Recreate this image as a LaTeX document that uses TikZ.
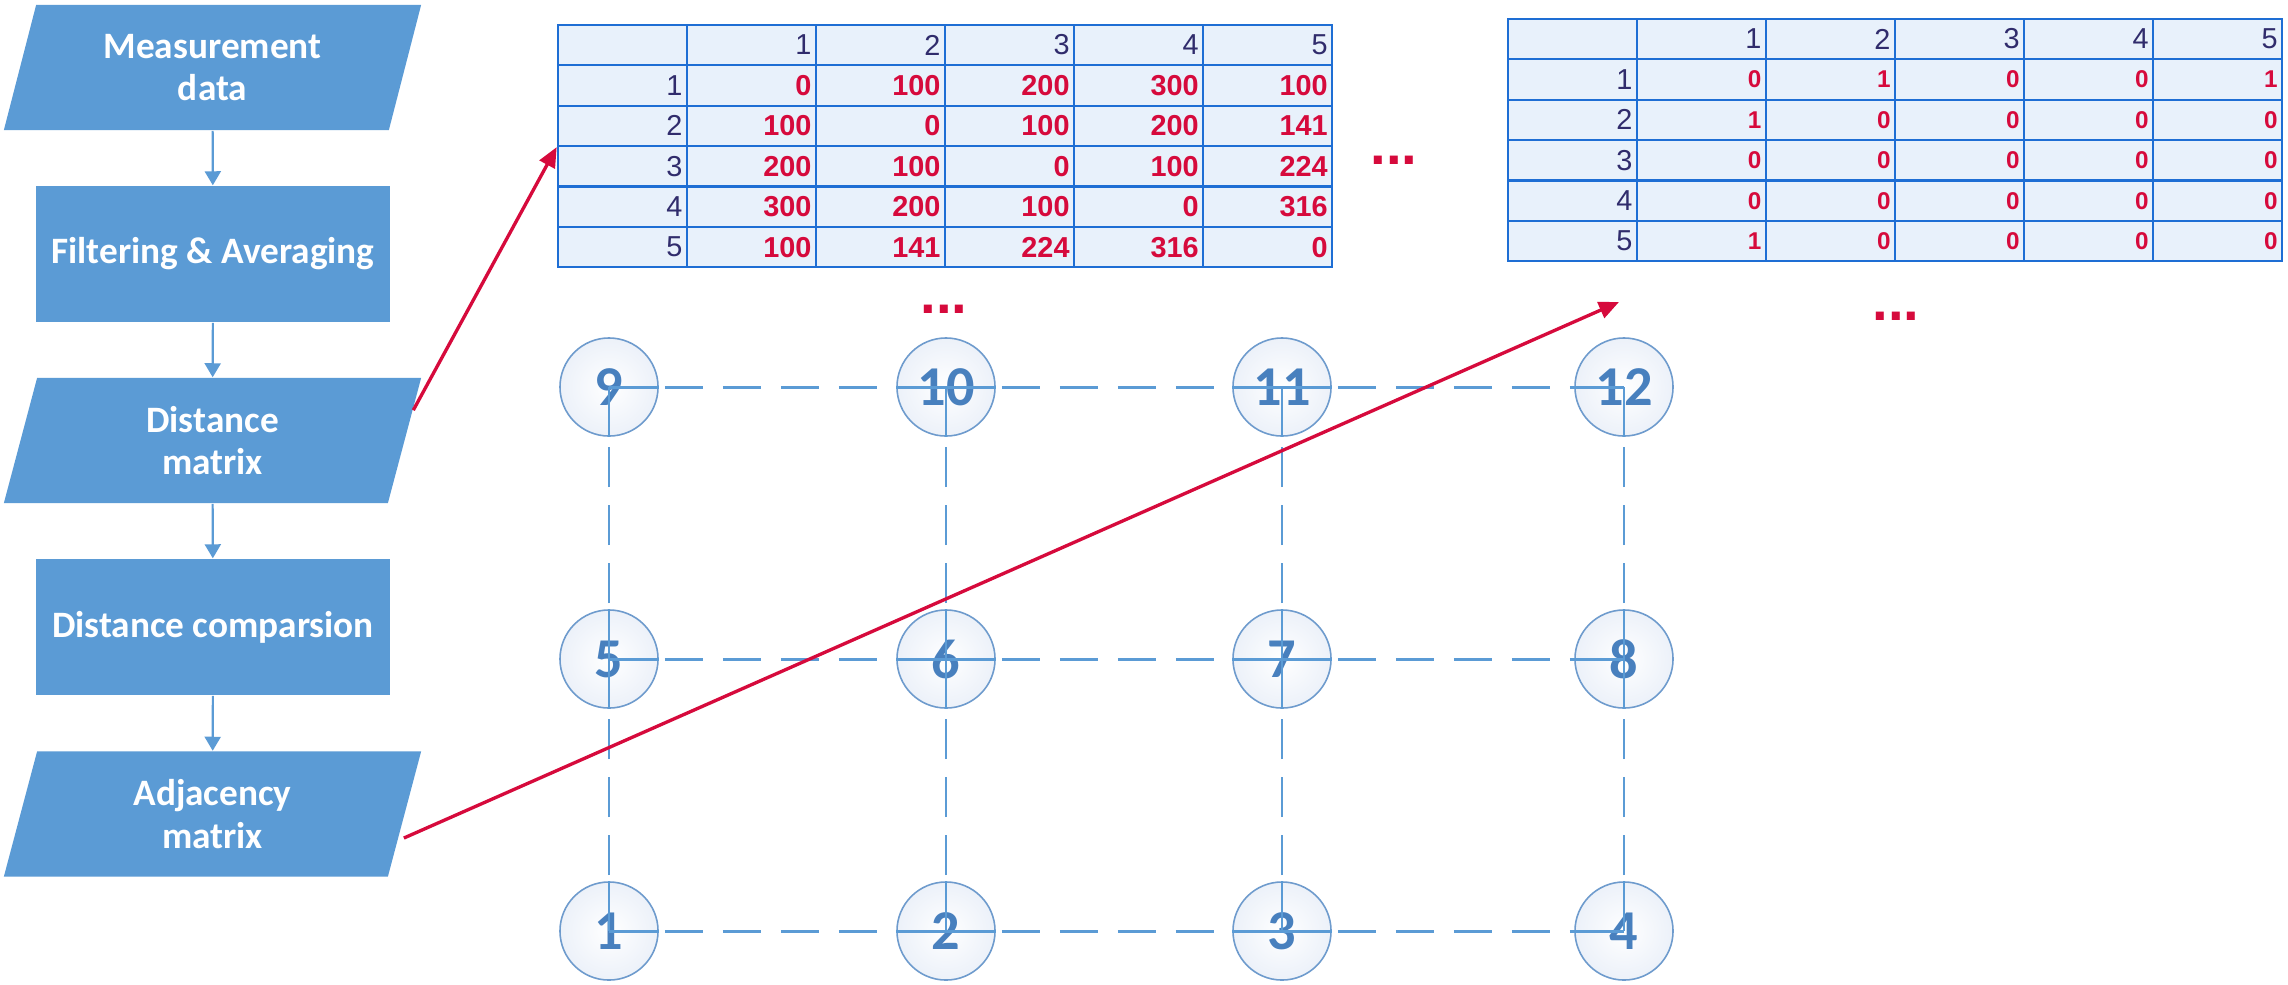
\documentclass[tikz,border=0pt]{standalone}
\usepackage{fontspec}
\setmainfont{Carlito}
\newfontfamily\boxfont{Carlito}
\newfontfamily\tabfont{Liberation Sans}
\usetikzlibrary{shapes.geometric,arrows.meta,matrix,calc}
\definecolor{boxblue}{RGB}{91,155,213}
\definecolor{gridblue}{RGB}{30,110,212}
\definecolor{cellfill}{RGB}{232,241,251}
\definecolor{hdrnavy}{RGB}{48,44,108}
\definecolor{valred}{RGB}{214,10,60}
\definecolor{ringblue}{RGB}{110,155,205}
\definecolor{numblue}{RGB}{72,128,190}
\definecolor{dashblue}{RGB}{91,155,213}
\definecolor{nodeshade}{RGB}{236,241,249}
\begin{document}
\begin{tikzpicture}[x=0.01cm,y=-0.01cm,
  boxtext/.style={text=white, font=\boxfont\bfseries\fontsize{10.6}{12.2}\selectfont, align=center},
  procbox/.style={boxtext, rectangle, fill=boxblue, minimum width=3.54cm, minimum height=1.36cm, inner sep=0pt},
  iobox/.style={boxtext, trapezium, trapezium left angle=64.4, trapezium right angle=115.6,
    trapezium stretches body=true, fill=boxblue, minimum width=4.17cm, minimum height=1.25cm, inner sep=0pt},
  flowarrow/.style={draw=boxblue, line width=0.6pt, -{Triangle[length=0.14cm,width=0.16cm]}},
  redarrow/.style={draw=valred, line width=0.95pt, -{Triangle[length=0.2cm,width=0.17cm]}},
  cellbox/.style={draw=gridblue, line width=0.6pt, fill=cellfill, minimum height=0.404cm,
    text width=1.2cm, inner xsep=0.045cm, inner ysep=0pt, align=right, anchor=center},
  valfont/.style={text=valred, font=\tabfont\bfseries\fontsize{8.2}{9}\selectfont},
  valsmall/.style={text=valred, font=\tabfont\bfseries\fontsize{6.9}{8}\selectfont},
  hdrfont/.style={text=hdrnavy, font=\tabfont\fontsize{8.2}{9}\selectfont},
  tblbase/.style={matrix of nodes, nodes in empty cells, row sep=-0.6pt, column sep=-0.6pt,
    inner sep=0pt, anchor=north west},
  gnode/.style={circle, draw=ringblue, line width=0.45pt, minimum size=0.98cm, inner sep=0pt,
    inner color=white, outer color=nodeshade, text=numblue,
    font=\boxfont\bfseries\fontsize{16}{16}\selectfont},
  hline/.style={draw=dashblue, line width=0.85pt, dash pattern=on 0.38cm off 0.2cm, dash phase=0.52cm},
  vline/.style={draw=dashblue, line width=0.55pt, dash pattern=on 0.4cm off 0.18cm, dash phase=0.52cm},
  hin/.style={draw=dashblue, line width=0.85pt},
  vin/.style={draw=dashblue, line width=0.55pt},
  dotsty/.style={text=valred, font=\tabfont\bfseries\fontsize{16}{16}\selectfont, inner sep=0pt}
]
\path[use as bounding box, fill=white] (0,0) rectangle (2288,984);

% flowchart
\node[iobox] (md) at (212.5,67.5) {Measurement\\data};
\node[procbox] (fa) at (213,254) {Filtering \& Averaging};
\node[iobox] (dm) at (212.5,440.5) {Distance\\matrix};
\node[procbox] (dc) at (213,627) {Distance comparsion};
\node[iobox] (am) at (212.5,814) {Adjacency\\matrix};
\draw[flowarrow] (md) -- (fa);
\draw[flowarrow] (fa) -- (dm);
\draw[flowarrow] (dm) -- (dc);
\draw[flowarrow] (dc) -- (am);

% distance matrix table
\matrix (t1) [tblbase, nodes={cellbox, valfont},
  row 1/.style={nodes={hdrfont}}, column 1/.style={nodes={hdrfont}}] at (556,23) {
   & 1 & 2 & 3 & 4 & 5 \\
  1 & 0 & 100 & 200 & 300 & 100 \\
  2 & 100 & 0 & 100 & 200 & 141 \\
  3 & 200 & 100 & 0 & 100 & 224 \\
  4 & 300 & 200 & 100 & 0 & 316 \\
  5 & 100 & 141 & 224 & 316 & 0 \\
};

% adjacency matrix table
\matrix (t2) [tblbase, nodes={cellbox, valsmall},
  row 1/.style={nodes={hdrfont}}, column 1/.style={nodes={hdrfont}}] at (1506,17) {
   & 1 & 2 & 3 & 4 & 5 \\
  1 & 0 & 1 & 0 & 0 & 1 \\
  2 & 1 & 0 & 0 & 0 & 0 \\
  3 & 0 & 0 & 0 & 0 & 0 \\
  4 & 0 & 0 & 0 & 0 & 0 \\
  5 & 1 & 0 & 0 & 0 & 0 \\
};

% ellipses
\node[dotsty] (e1) at (1394,160) {...};
\node[dotsty] (e2) at (944,309) {...};
\node[dotsty] (e3) at (1896,316) {...};

% grid of nodes
\node[gnode] (n1) at (609,931) {1};
\node[gnode] (n2) at (946,931) {2};
\node[gnode] (n3) at (1282,931) {3};
\node[gnode] (n4) at (1624,931) {4};
\node[gnode] (n5) at (609,659) {5};
\node[gnode] (n6) at (946,659) {6};
\node[gnode] (n7) at (1282,659) {7};
\node[gnode] (n8) at (1624,659) {8};
\node[gnode] (n9) at (609,387) {9};
\node[gnode] (n10) at (946,387) {10};
\node[gnode] (n11) at (1282,387) {11};
\node[gnode] (n12) at (1624,387) {12};

\foreach \a/\b in {1/2,2/3,3/4,5/6,6/7,7/8,9/10,10/11,11/12}{
  \draw[hline] (n\a) -- (n\b);
  \draw[hin] (n\a.center) -- (n\a.east);
  \draw[hin] (n\b.center) -- (n\b.west);
}
\foreach \a/\b in {1/5,5/9,2/6,6/10,3/7,7/11,4/8,8/12}{
  \draw[vline] (n\a) -- (n\b);
  \draw[vin] (n\a.center) -- (n\a.north);
  \draw[vin] (n\b.center) -- (n\b.south);
}

% red arrows
\coordinate (dmout) at ($(dm.top right corner)!0.26!(dm.bottom right corner)$);
\draw[redarrow] (dmout) -- (t1-3-1.south west);
\coordinate (amout) at ($(am.top right corner)!0.69!(am.bottom right corner)+(5,0)$);
\coordinate (adjtip) at (1619,302);
\draw[redarrow] (amout) -- (adjtip);
\end{tikzpicture}
\end{document}
